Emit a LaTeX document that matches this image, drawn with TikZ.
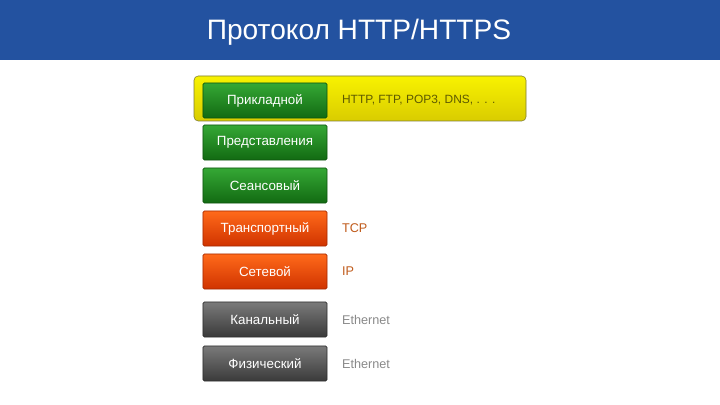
\documentclass[tikz,border=0pt]{standalone}
\usepackage{fontspec}
\setmainfont{Liberation Sans}
\usepackage{xcolor}
\usetikzlibrary{positioning}

\definecolor{titleblue}{HTML}{2352A0}
\definecolor{greentop}{HTML}{35A835}
\definecolor{greenbot}{HTML}{126A12}
\definecolor{orangetop}{HTML}{FF6A1A}
\definecolor{orangebot}{HTML}{D03300}
\definecolor{graytop}{HTML}{7A7A7A}
\definecolor{graybot}{HTML}{3A3A3A}
\definecolor{yellowtop}{HTML}{F8F200}
\definecolor{yellowbot}{HTML}{D9CC00}
\definecolor{olive}{HTML}{5E5A00}
\definecolor{protoorange}{HTML}{C05A1A}
\definecolor{protogray}{HTML}{8A8A8A}

\tikzset{
  layerbox/.style={rounded corners=1pt, minimum width=3.1cm, minimum height=0.875cm,
    inner sep=0pt, text=white, font=\fontsize{9.5}{11}\selectfont},
  greenlayer/.style={layerbox, top color=greentop, bottom color=greenbot, draw=greenbot!80!black},
  orangelayer/.style={layerbox, top color=orangetop, bottom color=orangebot, draw=orangebot!80!black},
  graylayer/.style={layerbox, top color=graytop, bottom color=graybot, draw=graybot!80!black},
  protolabel/.style={anchor=west, font=\fontsize{9}{11}\selectfont},
}

\begin{document}
\begin{tikzpicture}[x=0.025cm, y=-0.025cm]
  \useasboundingbox (0,0) rectangle (720,405);
  \fill[white] (0,0) rectangle (720,405);

  % Title bar
  \fill[titleblue] (0,0) rectangle (720,60);
  \node[text=white, font=\fontsize{20}{23}\selectfont] (title) at (359,32) {Протокол HTTP/HTTPS};

  % Highlight of the application layer
  \shade[rounded corners=3pt, top color=yellowtop, bottom color=yellowbot, draw=olive!80]
    (194,76) rectangle (526,121);

  % Layers
  \node[greenlayer] (app) at (265,100.5) {Прикладной};
  \node[greenlayer] (pres) at (265,142.5) {Представления};
  \node[greenlayer] (sess) at (265,185.5) {Сеансовый};
  \node[orangelayer] (trans) at (265,228.5) {Транспортный};
  \node[orangelayer] (net) at (265,271.5) {Сетевой};
  \node[graylayer] (link) at (265,319.5) {Канальный};
  \node[graylayer] (phys) at (265,363.5) {Физический};

  % Protocols
  \node[protolabel, text=olive, font=\fontsize{8.5}{11}\selectfont, right=7pt of app] (appproto) {HTTP, FTP, POP3, DNS, . . .};
  \node[protolabel, text=protoorange, right=7pt of trans] (transproto) {TCP};
  \node[protolabel, text=protoorange, right=7pt of net] (netproto) {IP};
  \node[protolabel, text=protogray, right=7pt of link] (linkproto) {Ethernet};
  \node[protolabel, text=protogray, right=7pt of phys] (physproto) {Ethernet};
\end{tikzpicture}
\end{document}
